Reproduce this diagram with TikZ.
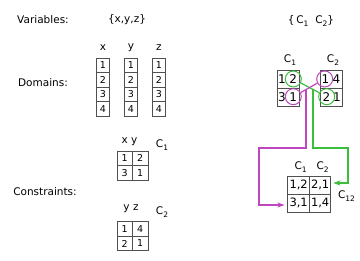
\documentclass[tikz,border=0pt]{standalone}
\usepackage{fontspec}
\setmainfont{DejaVu Sans}
\usetikzlibrary{arrows.meta,calc}
\definecolor{cgreen}{RGB}{60,190,60}
\definecolor{cmag}{RGB}{190,70,190}
\definecolor{cgrid}{RGB}{80,80,80}
\newcommand\mysub[1]{\raisebox{-0.55ex}{\fontsize{7.5}{8}\selectfont #1}}
\begin{document}
\begin{tikzpicture}[x=1pt,y=-1pt,
  lbl/.style={font=\fontsize{10.5}{12}\selectfont, inner sep=0pt},
  dcell/.style={draw=cgrid, line width=0.8pt, minimum width=12.5pt, minimum height=14.5pt, inner sep=0pt, font=\fontsize{9.5}{10}\selectfont},
  ccell/.style={draw=cgrid, line width=0.8pt, minimum width=15.5pt, minimum height=14.5pt, inner sep=0pt, font=\fontsize{9.5}{10}\selectfont},
  rcell/.style={draw=cgrid, line width=0.8pt, minimum width=22pt, minimum height=18pt, inner sep=0pt},
  tcell/.style={draw=cgrid, line width=0.8pt, minimum width=21.5pt, minimum height=18pt, inner sep=0pt, font=\fontsize{11.5}{13}\selectfont},
  dig/.style={inner sep=0pt, font=\fontsize{12}{13}\selectfont},
  ring/.style={circle, draw=#1, line width=1pt, minimum size=16pt, inner sep=0pt},
  gline/.style={draw=cgreen, line width=1.2pt},
  mline/.style={draw=cmag, line width=1.2pt},
  tip/.style={-{Stealth[length=7pt,width=5pt,inset=2pt]}}
]
\useasboundingbox (0,0) rectangle (360,261);

% left labels
\node[lbl] (var) at (43,20) {Variables:};
\node[lbl] (set) at (127,20) {\{x,y,z\}};
\node[lbl] (dom) at (43,83) {Domains:};
\node[lbl] (con) at (45,192) {Constraints:};

% domains
\node[lbl] (hx) at (103,48) {x};
\node[lbl] (hy) at (131,48) {y};
\node[lbl] (hz) at (159,48) {z};
\foreach \c/\xx in {x/103,y/131,z/159}{
  \foreach \r in {1,2,3,4}{
    \node[dcell] (d\c\r) at (\xx,{58+14.5*(\r-0.5)}) {\r};
  }
}

% constraint C1
\node[lbl] (hxy) at (129.5,142) {x y};
\node[lbl] (lc1) at (162,145) {C\mysub{1}};
\node[ccell] (a11) at (124.75,158.25) {1};
\node[ccell] (a12) at (140.25,158.25) {2};
\node[ccell] (a21) at (124.75,172.75) {3};
\node[ccell] (a22) at (140.25,172.75) {1};

% constraint C2
\node[lbl] (hyz) at (131,209) {y z};
\node[lbl] (lc2) at (162,212) {C\mysub{2}};
\node[ccell] (b11) at (124.75,229) {1};
\node[ccell] (b12) at (140.25,229) {4};
\node[ccell] (b21) at (124.75,243.5) {2};
\node[ccell] (b22) at (140.25,243.5) {1};

% right top
\node[lbl] (cset) at (311,21) {\{\,C\mysub{1}\hspace{7pt}C\mysub{2}\}};
\node[lbl] (rc1) at (290,60) {C\mysub{1}};
\node[lbl] (rc2) at (333,60) {C\mysub{2}};
\node[rcell] (l1) at (288,79) {};
\node[rcell] (l2) at (288,97) {};
\node[rcell] (r1) at (331,79) {};
\node[rcell] (r2) at (331,97) {};
\node[dig] (l1a) at (282,79) {1};
\node[dig] (l1b) at (293.3,79) {2};
\node[dig] (l2a) at (282,97) {3};
\node[dig] (l2b) at (293.3,97) {1};
\node[dig] (r1a) at (325.5,79) {1};
\node[dig] (r1b) at (336.5,79) {4};
\node[dig] (r2a) at (326.5,97) {2};
\node[dig] (r2b) at (337,97) {1};
\node[ring=cgreen] (g1) at (293.3,79) {};
\node[ring=cmag] (m1) at (293.3,96.7) {};
\node[ring=cmag] (m2) at (324.7,79) {};
\node[ring=cgreen] (g2) at (326.7,96.7) {};

% C12 table
\node[lbl] (tc1) at (300.7,166.7) {C\mysub{1}};
\node[lbl] (tc2) at (322.7,166.7) {C\mysub{2}};
\node[tcell] (t11) at (298.65,185) {1,2};
\node[tcell] (t12) at (320.15,185) {2,1};
\node[tcell] (t21) at (298.65,203) {3,1};
\node[tcell] (t22) at (320.15,203) {1,4};
\node[lbl] (lc12) at (346.5,196) {C\mysub{12}};

% connectors
\draw[gline] (g1) -- (g2);
\draw[mline] (m2) -- (m1);
\coordinate (gv) at ($(g1.center)!0.59!(g2.center)$);
\coordinate (mv) at ($(m2.center)!0.596!(m1.center)$);
\coordinate (gA) at (348,148);
\coordinate (mA) at (259,148);
\draw[gline,tip] (gv) |- (gA) |- ([xshift=2pt,yshift=2pt]t12.east);
\draw[mline,tip] (mv) |- (mA) |- ([xshift=-3pt,yshift=-2pt]t21.west);
\end{tikzpicture}
\end{document}
